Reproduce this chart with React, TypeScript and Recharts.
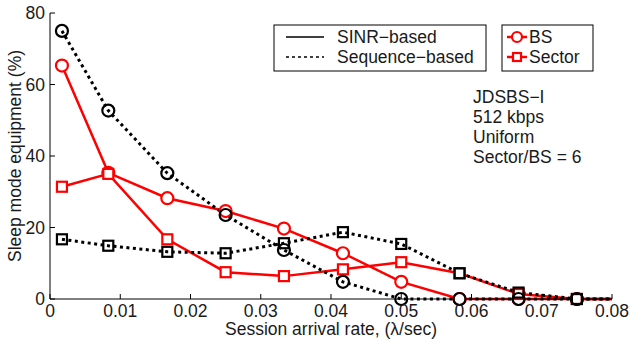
import { LineChart, Line, XAxis, YAxis, Customized } from 'recharts'

// session arrival rate (λ/sec)
const rates = [0.0017, 0.0083, 0.0167, 0.025, 0.0333, 0.0417, 0.05, 0.0583, 0.0667, 0.075, 0.0833]
const sinrBS = [65.3, 35.3, 28.2, 24.6, 19.7, 12.8, 4.8, 0, 0, 0, 0]
const sinrSector = [31.4, 35.0, 16.7, 7.5, 6.4, 8.3, 10.3, 7.2, 1.4, 0, 0]
const seqBS = [75.0, 52.7, 35.2, 23.5, 13.7, 4.8, 0, 0, 0, 0, 0]
const seqSector = [16.7, 14.9, 13.2, 12.8, 15.6, 18.7, 15.4, 7.2, 1.8, 0, 0]

const xTicks = [0, 0.01, 0.02, 0.03, 0.04, 0.05, 0.06, 0.07, 0.08]
const yTicks = [0, 20, 40, 60, 80]
const methodNames = ['SINR−based', 'Sequence−based']
const unitNames = ['BS', 'Sector']
const notes = ['JDSBS−I', '512 kbps', 'Uniform', 'Sector/BS = 6']

const data = rates.map((x, i) => ({
  x,
  sinrBS: sinrBS[i],
  sinrSector: sinrSector[i],
  seqBS: seqBS[i],
  seqSector: seqSector[i],
}))

const FONT = 'Liberation Sans, Arial, sans-serif'
const FS = 17.5
const TXT = '#1a1a1a'

const circleDot = (color: string, fill: string) => (p: any) => (
  <circle key={p.key} cx={p.cx} cy={p.cy} r={6} stroke={color} strokeWidth={2.2} fill={fill} />
)
const squareDot = (color: string, fill: string) => (p: any) => (
  <rect key={p.key} x={p.cx - 5} y={p.cy - 5} width={10} height={10} stroke={color} strokeWidth={2.2} fill={fill} />
)

function Extras() {
  return (
    <g fontFamily={FONT} fontSize={FS} fill={TXT}>
      {/* line style legend */}
      <rect x={274} y={25} width={212} height={46} fill="#fff" stroke="#000" strokeWidth={1} />
      <line x1={286} x2={324} y1={37} y2={37} stroke="#000" strokeWidth={1.5} />
      <line x1={286} x2={324} y1={57} y2={57} stroke="#000" strokeWidth={1.5} strokeDasharray="3 3" />
      <text x={337} y={43}>{methodNames[0]}</text>
      <text x={337} y={63}>{methodNames[1]}</text>
      {/* marker legend */}
      <rect x={502} y={25} width={91} height={46} fill="#fff" stroke="#000" strokeWidth={1} />
      <line x1={507} x2={527} y1={37} y2={37} stroke="red" strokeWidth={2.5} />
      <circle cx={517} cy={37} r={5} stroke="red" strokeWidth={2.2} fill="#fff" />
      <line x1={507} x2={527} y1={57} y2={57} stroke="red" strokeWidth={2.5} />
      <rect x={513} y={53} width={8} height={8} stroke="red" strokeWidth={2.2} fill="#fff" />
      <text x={529} y={43}>{unitNames[0]}</text>
      <text x={529} y={63}>{unitNames[1]}</text>
      {notes.map((n, i) => (
        <text key={n} x={473} y={103 + i * 20}>{n}</text>
      ))}
    </g>
  )
}

export default function App() {
  return (
    <div style={{ position: 'absolute', left: 0, top: 0, background: '#fff' }}>
      <LineChart width={630} height={340} data={data} margin={{ top: 13, right: 18, bottom: 0, left: 0 }}>
        <XAxis
          dataKey="x"
          type="number"
          domain={[0, 0.08]}
          ticks={xTicks}
          allowDataOverflow
          height={41}
          tickSize={-5}
          tickMargin={11}
          interval={0}
          tickFormatter={(v: number) => (v === 0 ? '0' : String(+v.toFixed(2)))}
          stroke="#000"
          tick={{ fontSize: FS, fill: TXT, fontFamily: FONT }}
          label={{
            value: 'Session arrival rate, (λ/sec)',
            position: 'insideBottom',
            offset: 5,
            fontSize: FS,
            fill: TXT,
            fontFamily: FONT,
          }}
        />
        <XAxis
          xAxisId="top"
          orientation="top"
          type="number"
          domain={[0, 0.08]}
          ticks={xTicks}
          height={0}
          tickSize={-5}
          tick={false}
          stroke="#000"
        />
        <YAxis
          type="number"
          domain={[0, 80]}
          ticks={yTicks}
          width={50}
          tickSize={-5}
          tickMargin={10}
          interval={0}
          stroke="#000"
          tick={{ fontSize: FS, fill: TXT, fontFamily: FONT }}
          label={{
            value: 'Sleep mode equipment (%)',
            angle: -90,
            position: 'insideLeft',
            offset: 15,
            fontSize: FS,
            fill: TXT,
            fontFamily: FONT,
            style: { textAnchor: 'middle' },
          }}
        />
        <YAxis
          yAxisId="right"
          orientation="right"
          type="number"
          domain={[0, 80]}
          ticks={yTicks}
          width={0}
          tickSize={-5}
          tick={false}
          stroke="#000"
        />
        <Line
          dataKey="sinrBS"
          stroke="red"
          strokeWidth={2.5}
          dot={circleDot('red', '#fff')}
          isAnimationActive={false}
        />
        <Line
          dataKey="sinrSector"
          stroke="red"
          strokeWidth={2.5}
          dot={squareDot('red', '#fff')}
          isAnimationActive={false}
        />
        <Line
          dataKey="seqBS"
          stroke="#000"
          strokeWidth={3}
          strokeDasharray="3 3.5"
          dot={circleDot('#000', 'none')}
          isAnimationActive={false}
        />
        <Line
          dataKey="seqSector"
          stroke="#000"
          strokeWidth={3}
          strokeDasharray="3 3.5"
          dot={squareDot('#000', 'none')}
          isAnimationActive={false}
        />
        <Customized component={Extras} />
      </LineChart>
    </div>
  )
}
